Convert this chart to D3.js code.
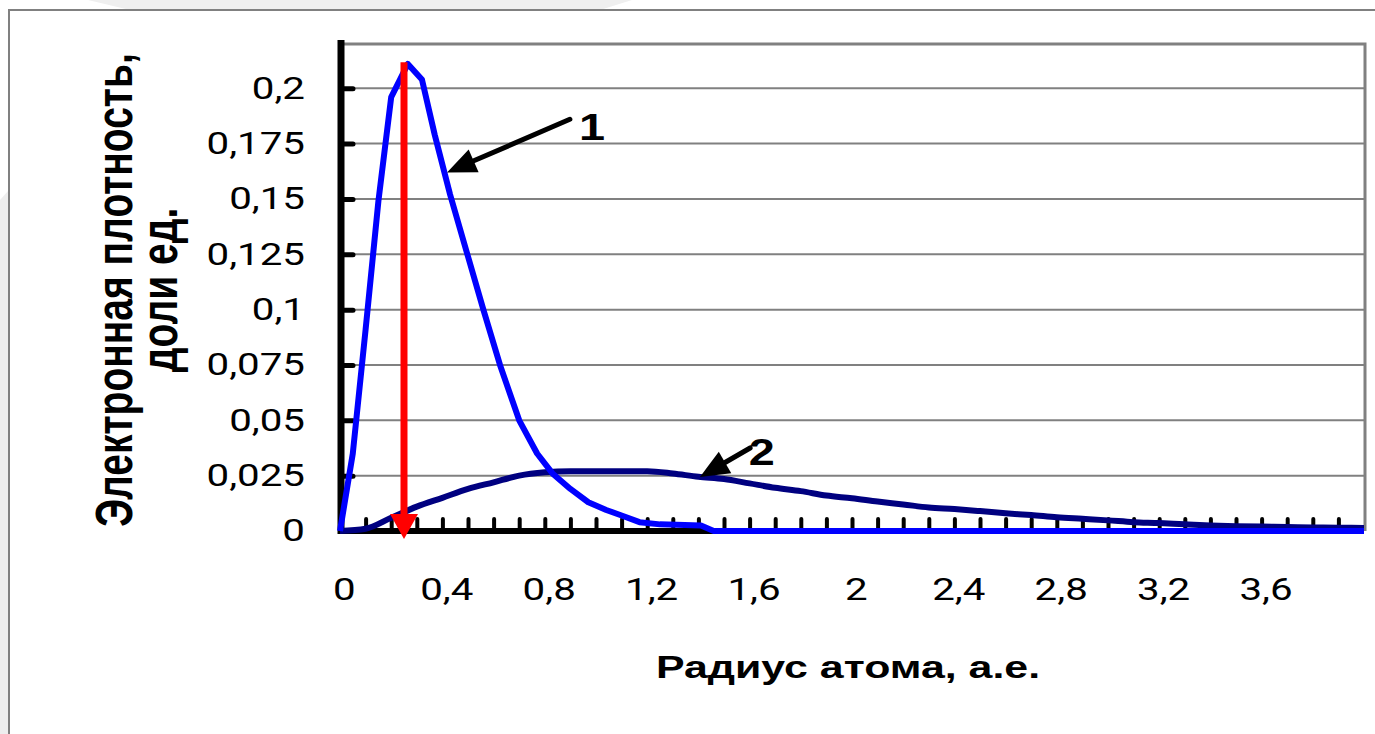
<!DOCTYPE html>
<html>
<head>
<meta charset="utf-8">
<script src="https://cdn.jsdelivr.net/npm/d3@7"></script>
<style>
body { margin: 0; background: #fff; }
svg { display: block; }
</style>
</head>
<body>
<div id="chart"></div>
<script>
// данные
const curve1X = [0, 0.05, 0.1, 0.15, 0.2, 0.265, 0.32, 0.37, 0.43, 0.5, 0.56, 0.625, 0.7, 0.77, 0.83, 0.9, 0.97, 1.04, 1.1, 1.17, 1.25, 1.41, 1.46, 2, 3, 4]
const curve1Y = [0, 0.035, 0.091, 0.149, 0.196, 0.211, 0.204, 0.179, 0.152, 0.124, 0.1, 0.075, 0.05, 0.035, 0.026, 0.019, 0.013, 0.0095, 0.007, 0.004, 0.003, 0.0025, 0, 0, 0, 0]

const curve2X = [0, 0.1, 0.2, 0.3, 0.4, 0.5, 0.6, 0.7, 0.8, 0.9, 1.0, 1.1, 1.2, 1.3, 1.4, 1.5, 1.6, 1.7, 1.8, 1.9,
  2.0, 2.1, 2.2, 2.3, 2.4, 2.5, 2.6, 2.7, 2.8, 2.9, 3.0, 3.1, 3.2, 3.3, 3.4, 3.5, 3.6, 3.7, 3.8, 3.9, 4.0]
const curve2Y = [0, 0.001, 0.006, 0.011, 0.015, 0.019, 0.022, 0.025, 0.0265, 0.027, 0.027, 0.027, 0.027, 0.026, 0.0245,
  0.0235, 0.0215, 0.0195, 0.018, 0.016, 0.0148, 0.0133, 0.012, 0.0106, 0.0099, 0.009, 0.008, 0.0072, 0.0062, 0.0055,
  0.0048, 0.004, 0.0036, 0.003, 0.0025, 0.0022, 0.002, 0.0018, 0.0016, 0.0015, 0.0014]

const yTicks = [0, 0.025, 0.05, 0.075, 0.1, 0.125, 0.15, 0.175, 0.2]
const xTicks = [0, 0.4, 0.8, 1.2, 1.6, 2, 2.4, 2.8, 3.2, 3.6]
const xMinorTicks = d3.range(1, 40).map(i => i / 10)

const yTitle = ["Электронная плотность,", "доли ед."]
const xTitle = "Радиус атома, а.е."
const labels = [
  {text: "1", x: 0.984, y: 0.1766},
  {text: "2", x: 1.648, y: 0.0298}
]
const arrows = [
  {x1: 0.898, y1: 0.186, x2: 0.418, y2: 0.162},
  {x1: 1.602, y1: 0.0375, x2: 1.406, y2: 0.0244}
]
const peakX = 0.25

// размеры
const width = 1375
const height = 734
const stretch = 1.3

const svg = d3.select("#chart").append("svg")
  .attr("width", width)
  .attr("height", height)

// фон слайда
svg.append("path").attr("d", "M88,0 L632,0 L600,10 L130,10 Z").attr("fill", "#efefef")
svg.append("path").attr("d", "M0,200 L9,190 L9,734 L0,734 Z").attr("fill", "#eeeeee")
svg.append("path").attr("d", "M9,734 L9,10 L1375,10")
  .attr("fill", "none").attr("stroke", "#808080").attr("stroke-width", 2)

const x = d3.scaleLinear().domain([0, 4]).range([340, 1364])
const y = d3.scaleLinear().domain([0, 0.22]).range([531, 44])

// сетка
svg.append("g").selectAll("line").data(yTicks.filter(d => d > 0)).enter()
  .append("line")
  .attr("x1", x(0)).attr("x2", x(4))
  .attr("y1", d => y(d)).attr("y2", d => y(d))
  .attr("stroke", "#808080").attr("stroke-width", 2)

// рамка области построения
svg.append("path")
  .attr("d", `M${x(0)},${y(0.22)} L${x(4) + 1},${y(0.22)} L${x(4) + 1},${y(0)}`)
  .attr("fill", "none").attr("stroke", "#808080").attr("stroke-width", 3)

// оси
const yAxisGroup = svg.append("g").attr("transform", `translate(${x(0) + 1}, 0)`)
yAxisGroup.call(d3.axisLeft(y).tickValues(yTicks).tickSizeInner(-12).tickSizeOuter(0).tickPadding(36)
  .tickFormat(d => String(d).replace(".", ",")))
yAxisGroup.select(".domain").attr("d", `M0,${y(0.22) - 4}V${y(0) + 3}`).attr("stroke", "#000").attr("stroke-width", 7)
yAxisGroup.selectAll(".tick line").attr("stroke", "#000").attr("stroke-width", 5).attr("stroke-linecap", "round")
yAxisGroup.selectAll(".tick text")
  .attr("font-family", "Roboto, sans-serif").attr("font-size", 31).attr("fill", "#000")
  .attr("x", -36 / stretch)
  .attr("transform", `scale(${stretch},1)`)

const xMinorGroup = svg.append("g").attr("transform", `translate(0, ${y(0)})`)
xMinorGroup.call(d3.axisBottom(x).tickValues(xMinorTicks).tickSizeInner(-12).tickSizeOuter(0).tickFormat(""))
xMinorGroup.selectAll(".tick line").attr("stroke", "#000").attr("stroke-width", 4).attr("stroke-linecap", "round")
xMinorGroup.select(".domain").attr("d", `M${x(0)},0H${x(4)}`).attr("stroke", "#000").attr("stroke-width", 6)

const xAxisGroup = svg.append("g").attr("transform", `translate(0, ${y(0)})`)
xAxisGroup.call(d3.axisBottom(x).tickValues(xTicks).tickSize(0)
  .tickFormat(d => String(d).replace(".", ",")))
xAxisGroup.select(".domain").remove()
xAxisGroup.selectAll(".tick text")
  .attr("font-family", "Roboto, sans-serif").attr("font-size", 31).attr("fill", "#000")
  .attr("y", 69).attr("dy", 0).attr("x", 3)
  .attr("transform", `scale(${stretch},1)`)

// кривые
const line1 = d3.line().x(d => x(d[0])).y(d => y(d[1]))
const line2 = d3.line().x(d => x(d[0])).y(d => y(d[1])).curve(d3.curveMonotoneX)

svg.append("path")
  .datum(curve2X.map((d, i) => [d, curve2Y[i]]))
  .attr("d", line2)
  .attr("fill", "none").attr("stroke", "#000080").attr("stroke-width", 6).attr("stroke-linejoin", "round")

svg.append("path")
  .datum(curve1X.map((d, i) => [d, curve1Y[i]]))
  .attr("d", line1)
  .attr("fill", "none").attr("stroke", "#0000ff").attr("stroke-width", 6).attr("stroke-linejoin", "round")

// красная стрелка на максимуме
const px = x(peakX)
const tipY = y(0) + 8
svg.append("line")
  .attr("x1", px).attr("x2", px)
  .attr("y1", y(0.2118)).attr("y2", tipY - 20)
  .attr("stroke", "#ff0000").attr("stroke-width", 7)
svg.append("path")
  .attr("d", `M${px},${tipY} L${px - 14},${tipY - 25} L${px + 14},${tipY - 25} Z`)
  .attr("fill", "#ff0000")

// черные стрелки
arrows.forEach(a => {
  const sx = x(a.x1), sy = y(a.y1), tx = x(a.x2), ty = y(a.y2)
  const len = Math.hypot(tx - sx, ty - sy)
  const ux = (tx - sx) / len, uy = (ty - sy) / len
  const hl = 29, hw = 12.5
  const bx = tx - ux * hl, by = ty - uy * hl
  svg.append("line")
    .attr("x1", sx).attr("y1", sy).attr("x2", bx + ux * 3).attr("y2", by + uy * 3)
    .attr("stroke", "#000").attr("stroke-width", 5).attr("stroke-linecap", "round")
  svg.append("path")
    .attr("d", `M${tx},${ty} L${bx - uy * hw},${by + ux * hw} L${bx + uy * hw},${by - ux * hw} Z`)
    .attr("fill", "#000")
})

labels.forEach(l => {
  svg.append("g").attr("transform", `translate(${x(l.x)}, ${y(l.y)})`)
    .append("text")
    .attr("text-anchor", "middle")
    .attr("transform", `scale(${stretch},1)`)
    .attr("font-family", "'Liberation Sans', Arial, sans-serif").attr("font-weight", "bold")
    .attr("font-size", 36)
    .text(l.text)
})

// подписи осей
svg.append("g").attr("transform", "translate(848, 678)")
  .append("text")
  .attr("text-anchor", "middle")
  .attr("transform", `scale(1.34,1)`)
  .attr("font-family", "'Liberation Sans', Arial, sans-serif").attr("font-weight", "bold")
  .attr("font-size", 32)
  .text(xTitle)

yTitle.forEach((t, i) => {
  svg.append("g").attr("transform", `translate(${132 + i * 45}, 290) scale(1.33,1) rotate(-90)`)
    .append("text")
    .attr("text-anchor", "middle")
    .attr("font-family", "'Liberation Sans', Arial, sans-serif").attr("font-weight", "bold")
    .attr("font-size", 39)
    .text(t)
})
</script>
</body>
</html>
